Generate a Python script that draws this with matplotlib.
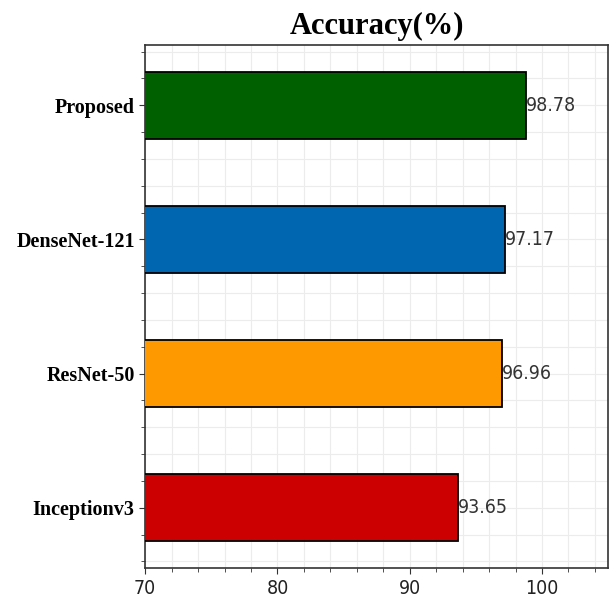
"""Horizontal bar chart of model accuracy."""

import matplotlib
matplotlib.use("Agg")
import matplotlib.pyplot as plt
from matplotlib.ticker import MultipleLocator

models = ["Proposed", "DenseNet-121", "ResNet-50", "Inceptionv3"]
accuracy = [98.78, 97.17, 96.96, 93.65]
colors = ["#006000", "#0066b0", "#ff9900", "#cc0000"]
x_ticks = [70, 80, 90, 100]

NARROW = dict(family="DejaVu Sans", fontstretch="condensed")


def plot_accuracy() -> None:
    fig = plt.figure(figsize=(6.10, 5.98), dpi=100)
    ax = fig.add_axes([0.238, 0.050, 0.759, 0.875])

    pos = list(range(len(models)))[::-1]
    ax.barh(pos, accuracy, height=0.5, color=colors,
            edgecolor="black", linewidth=1.3, zorder=3)

    for y, v in zip(pos, accuracy):
        ax.text(v, y, f"{v:.2f}", ha="left", va="center",
                fontsize=14, color="#333333", zorder=4, **NARROW)

    ax.set_xlim(70, 105)
    ax.set_ylim(-0.45, 3.45)
    ax.set_xticks(x_ticks)
    ax.set_xticklabels([str(t) for t in x_ticks], fontsize=14,
                       color="#222222", **NARROW)
    ax.xaxis.set_minor_locator(MultipleLocator(2))
    ax.set_yticks(pos)
    ax.set_yticklabels(models, family="Liberation Serif",
                       fontweight="bold", fontsize=14.5)
    ax.yaxis.set_minor_locator(MultipleLocator(0.2))

    ax.grid(True, which="both", color="#ececec", linewidth=0.8, zorder=0)
    ax.tick_params(which="both", direction="out", length=4, color="#333333")
    ax.tick_params(which="minor", length=3)
    for spine in ax.spines.values():
        spine.set_linewidth(1.2)
        spine.set_color("#333333")

    ax.set_title("Accuracy(%)", family="Liberation Serif",
                 fontweight="bold", fontsize=22, pad=8)

    fig.savefig("out.png", dpi=100)


if __name__ == "__main__":
    plot_accuracy()
